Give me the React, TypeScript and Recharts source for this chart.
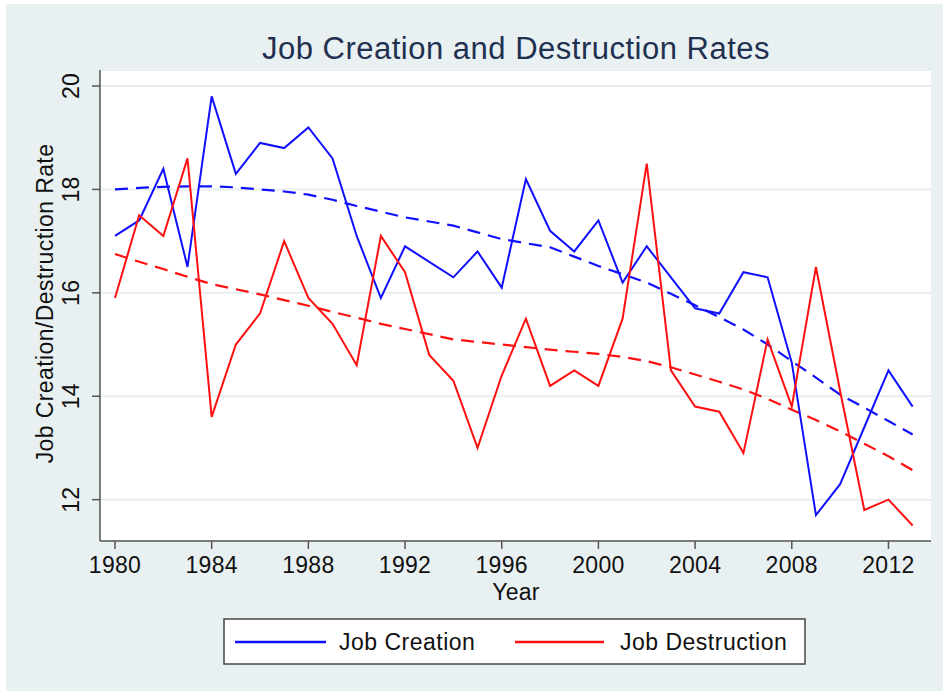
import React from 'react';
import { LineChart, Line, XAxis, YAxis, CartesianGrid } from 'recharts';

const years = [
  1980, 1981, 1982, 1983, 1984, 1985, 1986, 1987, 1988, 1989,
  1990, 1991, 1992, 1993, 1994, 1995, 1996, 1997, 1998, 1999,
  2000, 2001, 2002, 2003, 2004, 2005, 2006, 2007, 2008, 2009,
  2010, 2011, 2012, 2013,
];

const jobCreation = [
  17.1, 17.4, 18.4, 16.5, 19.8, 18.3, 18.9, 18.8, 19.2, 18.6,
  17.1, 15.9, 16.9, 16.6, 16.3, 16.8, 16.1, 18.2, 17.2, 16.8,
  17.4, 16.2, 16.9, 16.3, 15.7, 15.6, 16.4, 16.3, 14.65, 11.7,
  12.3, 13.4, 14.5, 13.8,
];

const jobDestruction = [
  15.9, 17.5, 17.1, 18.6, 13.6, 15.0, 15.6, 17.0, 15.9, 15.4,
  14.6, 17.1, 16.4, 14.8, 14.3, 13.0, 14.4, 15.5, 14.2, 14.5,
  14.2, 15.5, 18.5, 14.5, 13.8, 13.7, 12.9, 15.1, 13.8, 16.5,
  14.1, 11.8, 12.0, 11.5,
];

// smoothed trend lines (dashed)
const creationTrend = [
  18.0, 18.03, 18.05, 18.06, 18.06, 18.04, 18.0, 17.96, 17.9, 17.8,
  17.68, 17.57, 17.46, 17.38, 17.3, 17.17, 17.04, 16.96, 16.88, 16.7,
  16.52, 16.36, 16.2, 15.98, 15.76, 15.53, 15.29, 15.0, 14.68, 14.36,
  14.03, 13.78, 13.52, 13.26,
];

const destructionTrend = [
  16.75, 16.6, 16.46, 16.31, 16.17, 16.07, 15.97, 15.86, 15.75, 15.63,
  15.52, 15.4, 15.3, 15.2, 15.1, 15.05, 15.0, 14.95, 14.9, 14.86,
  14.82, 14.76, 14.68, 14.56, 14.42, 14.28, 14.13, 13.95, 13.74, 13.54,
  13.32, 13.08, 12.84, 12.57,
];

const xTicks = [1980, 1984, 1988, 1992, 1996, 2000, 2004, 2008, 2012];
const yTicks = [12, 14, 16, 18, 20];
const seriesNames = ['Job Creation', 'Job Destruction'];

const BLUE = '#1010ff';
const RED = '#ff1010';
const BG = '#e9f0f2';
const GRID = '#e6eeee';
const AXIS = '#555';
const FONT = '"Liberation Sans", Arial, sans-serif';

const data = years.map((year, i) => ({
  year,
  creation: jobCreation[i],
  destruction: jobDestruction[i],
  creationFit: creationTrend[i],
  destructionFit: destructionTrend[i],
}));

const XTick = (props: any) => {
  const { x, payload } = props;
  return (
    <text x={x} y={569} textAnchor="middle" fontSize={23} fill="#111" fontFamily={FONT} letterSpacing={0.3}>
      {payload.value}
    </text>
  );
};

const YTick = (props: any) => {
  const { y, payload } = props;
  return (
    <text
      x={73}
      y={y}
      transform={`rotate(-90, 73, ${y})`}
      textAnchor="middle"
      fontSize={23}
      fill="#111"
      fontFamily={FONT}
      letterSpacing={0.3}
    >
      {payload.value}
    </text>
  );
};

export default function App() {
  return (
    <div style={{ position: 'absolute', left: 0, top: 0, width: 943, height: 691, background: '#fff' }}>
      <div style={{ position: 'absolute', left: 6, top: 4, width: 937, height: 687, background: BG }}>
        <LineChart width={937} height={687} data={data} margin={{ top: 66, right: 12, left: 0, bottom: 100 }}>
          <CartesianGrid vertical={false} fill="#fff" stroke={GRID} strokeWidth={2} />
          <XAxis
            dataKey="year"
            type="number"
            domain={[1979.38, 2013.76]}
            ticks={xTicks}
            allowDataOverflow
            height={50}
            tickSize={8}
            axisLine={{ stroke: AXIS, strokeWidth: 1.5 }}
            tickLine={{ stroke: AXIS, strokeWidth: 1.5 }}
            tick={<XTick />}
            label={{
              content: () => (
                <text x={510} y={596} textAnchor="middle" fontSize={23} fill="#111" fontFamily={FONT} letterSpacing={0.3}>
                  Year
                </text>
              ),
            }}
          />
          <YAxis
            type="number"
            domain={[11.2, 20.31]}
            ticks={yTicks}
            allowDataOverflow
            width={94}
            tickSize={8}
            axisLine={{ stroke: AXIS, strokeWidth: 1.5 }}
            tickLine={{ stroke: AXIS, strokeWidth: 1.5 }}
            tick={<YTick />}
            label={{
              content: () => (
                <text
                  x={47}
                  y={299.5}
                  transform="rotate(-90, 47, 299.5)"
                  textAnchor="middle"
                  fontSize={23}
                  fill="#111"
                  fontFamily={FONT}
                  letterSpacing={0.4}
                >
                  Job Creation/Destruction Rate
                </text>
              ),
            }}
          />
          <Line type="linear" dataKey="creationFit" stroke={BLUE} strokeWidth={2.2} strokeDasharray="13 8" dot={false} isAnimationActive={false} />
          <Line type="linear" dataKey="destructionFit" stroke={RED} strokeWidth={2.2} strokeDasharray="13 8" dot={false} isAnimationActive={false} />
          <Line type="linear" dataKey="creation" name={seriesNames[0]} stroke={BLUE} strokeWidth={2} dot={false} isAnimationActive={false} />
          <Line type="linear" dataKey="destruction" name={seriesNames[1]} stroke={RED} strokeWidth={2} dot={false} isAnimationActive={false} />
        </LineChart>
      </div>
      <svg width={943} height={691} style={{ position: 'absolute', left: 0, top: 0, pointerEvents: 'none' }}>
        <text x={516} y={59} textAnchor="middle" fontSize={31} fill="#1f3050" fontFamily={FONT} letterSpacing={0.5}>
          Job Creation and Destruction Rates
        </text>
        <rect x={224} y={619} width={581} height={45} fill="#fff" stroke="#444" strokeWidth={1.5} />
        <line x1={235} y1={642} x2={326} y2={642} stroke={BLUE} strokeWidth={2.5} />
        <text x={339} y={650} fontSize={23} fill="#111" fontFamily={FONT} letterSpacing={0.5}>
          {seriesNames[0]}
        </text>
        <line x1={515} y1={642} x2={604} y2={642} stroke={RED} strokeWidth={2.5} />
        <text x={620} y={650} fontSize={23} fill="#111" fontFamily={FONT} letterSpacing={0.5}>
          {seriesNames[1]}
        </text>
      </svg>
    </div>
  );
}
